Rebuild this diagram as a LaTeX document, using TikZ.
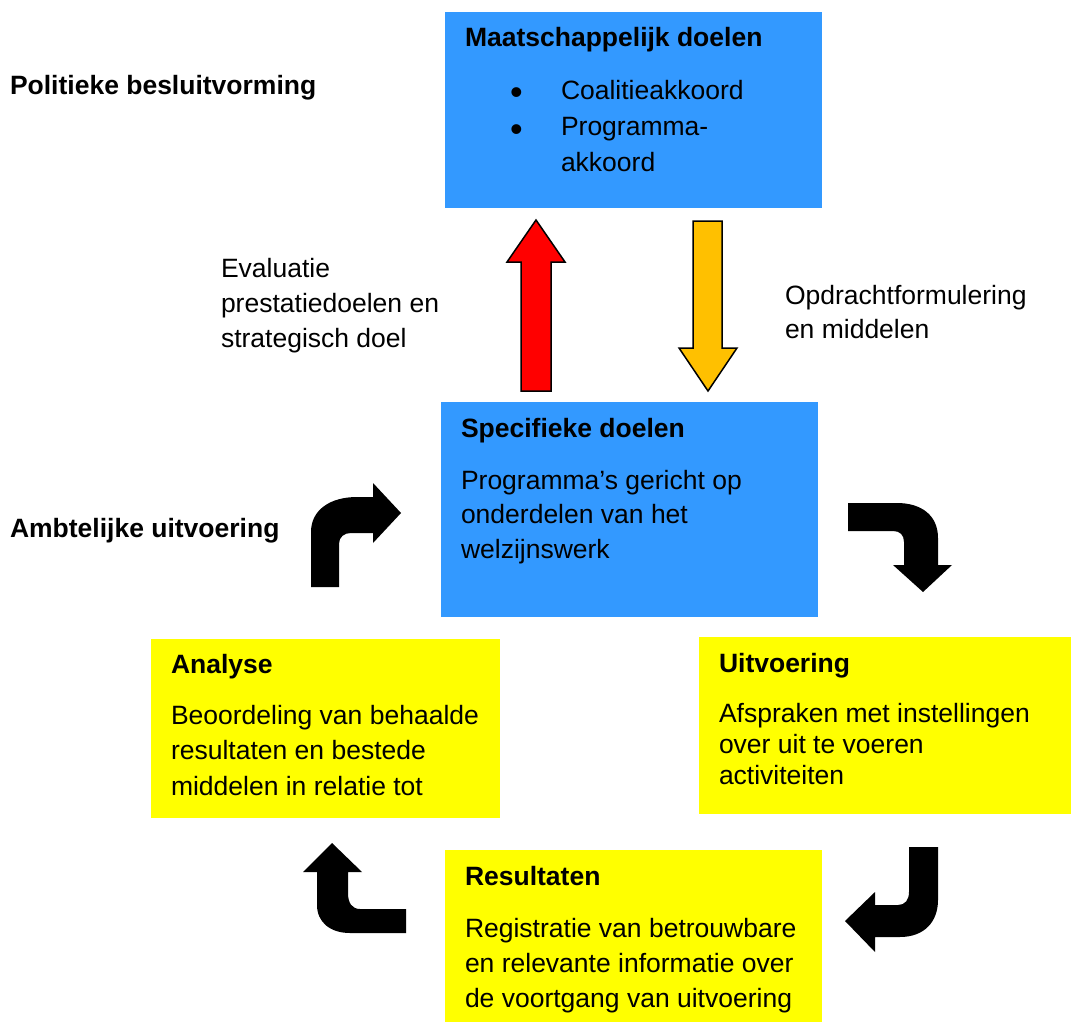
\documentclass[tikz,border=0pt]{standalone}
\usepackage{fontspec}
\setmainfont{Liberation Sans}
\newcommand\mylines[2]{\parbox[t]{500pt}{\fontsize{26.5}{#1}\selectfont #2}}
\definecolor{boxblue}{RGB}{51,153,255}
\definecolor{boxyellow}{RGB}{255,255,0}
\definecolor{arrred}{RGB}{255,0,0}
\definecolor{arrgold}{RGB}{255,192,0}
\tikzset{
  panel/.style={rectangle, anchor=north west, inner sep=0pt, outer sep=0pt, draw=none},
  bluepanel/.style={panel, fill=boxblue},
  yellowpanel/.style={panel, fill=boxyellow},
  txt/.style={anchor=base west, inner sep=0pt, outer sep=0pt, font=\fontsize{26.5}{35}\selectfont},
  ttl/.style={txt, font=\fontsize{26.5}{35}\selectfont\bfseries},
  bulletmark/.style={anchor=base west, inner sep=0pt, outer sep=0pt, font=\fontsize{36}{36}\selectfont},
  bentarrow/.style={fill=black, draw=none},
  blockarrow/.style={draw=black, line width=1.5pt, line join=miter}
}
\begin{document}
\begin{tikzpicture}[x=1pt, y=-1pt]
\useasboundingbox (0,0) rectangle (1071,1022);

% boxes
\node[bluepanel, minimum width=377pt, minimum height=196pt] (maat) at (445,12) {};
\node[bluepanel, minimum width=377pt, minimum height=215pt] (spec) at (441,402) {};
\node[yellowpanel, minimum width=349pt, minimum height=179pt] (anal) at (151,639) {};
\node[yellowpanel, minimum width=372pt, minimum height=177pt] (uitv) at (699,637) {};
\node[yellowpanel, minimum width=377pt, minimum height=172pt] (resu) at (445,850) {};

% texts in boxes
\node[ttl] (maatT) at (465,47) {Maatschappelijk doelen};
\node[bulletmark] (bul1) at (510,105) {•};
\node[bulletmark] (bul2) at (510,142) {•};
\node[txt] (maatB) at (561,100) {\mylines{36}{Coalitieakkoord\\Programma-\\akkoord}};

\node[ttl] (specT) at (461,437) {Specifieke doelen};
\node[txt] (specB) at (461,489) {\mylines{34.5}{Programma’s gericht op\\onderdelen van het\\welzijnswerk}};

\node[ttl] (analT) at (171,673) {Analyse};
\node[txt] (analB) at (171,724) {\mylines{35.5}{Beoordeling van behaalde\\resultaten en bestede\\middelen in relatie tot}};

\node[ttl] (uitvT) at (719,672) {Uitvoering};
\node[txt] (uitvB) at (719,722) {\mylines{31}{Afspraken met instellingen\\over uit te voeren\\activiteiten}};

\node[ttl] (resuT) at (465,885) {Resultaten};
\node[txt] (resuB) at (465,937) {\mylines{35}{Registratie van betrouwbare\\en relevante informatie over\\de voortgang van uitvoering}};

% free labels
\node[ttl] (polit) at (10,95) {Politieke besluitvorming};
\node[ttl] (ambt) at (10,537) {Ambtelijke uitvoering};
\node[txt] (evalL) at (221,277) {\mylines{35}{Evaluatie\\prestatiedoelen en\\strategisch doel}};
\node[txt] (opdrL) at (785,304) {\mylines{34}{Opdrachtformulering\\en middelen}};

% up (red) and down (gold) block arrows
\draw[blockarrow, fill=arrred] (536,220) -- (565,262) -- (551,262) -- (551,391) -- (521,391) -- (521,262) -- (507,262) -- cycle;
\draw[blockarrow, fill=arrgold] (693,221) -- (722,221) -- (722,348) -- (737,348) -- (708,391) -- (679,348) -- (693,348) -- cycle;

% bent arrows
\fill[bentarrow] (311,587) -- (311,532) .. controls (311,510) and (330,497) .. (357,497) -- (373,497) -- (373,483) -- (401,513) -- (373,543) -- (373,533) -- (351,533) .. controls (344,533) and (339,537) .. (339,544) -- (339,587) -- cycle;
\fill[bentarrow] (848,503) -- (897,503) .. controls (921,503) and (938,515) .. (938,538) -- (938,565) -- (952,565) -- (923,592) -- (893,565) -- (904,565) -- (904,542) .. controls (904,535) and (900,531) .. (893,531) -- (848,531) -- cycle;
\fill[bentarrow] (909,847) -- (938,847) -- (938,900) .. controls (938,922) and (924,937) .. (900,937) -- (875,937) -- (875,952) -- (845,921) -- (875,892) -- (875,905) -- (898,905) .. controls (905,905) and (909,900) .. (909,892) -- cycle;
\fill[bentarrow] (406,909) -- (406,933) -- (350,933) .. controls (330,933) and (317,922) .. (317,905) -- (317,872) -- (303,872) -- (332,843) -- (362,872) -- (348,872) -- (348,893) .. controls (348,903) and (352,909) .. (360,909) -- cycle;
\end{tikzpicture}
\end{document}
